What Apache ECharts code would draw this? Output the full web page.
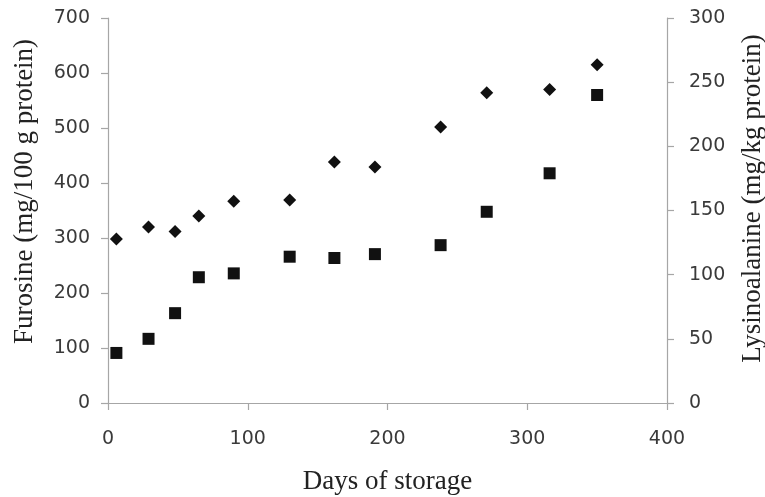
<!DOCTYPE html>
<html>
<head>
<meta charset="utf-8">
<script src="https://cdn.jsdelivr.net/npm/echarts@6/dist/echarts.min.js"></script>
<style>
  html, body { margin: 0; padding: 0; background: #fff; }
  #chart { width: 765px; height: 497px; }
</style>
</head>
<body>
<div id="chart"></div>
<script>
// Storage time (days) at which samples were analysed
const days = [6, 29, 48, 65, 90, 130, 162, 191, 238, 271, 316, 350];
// Furosine, mg/100 g protein (left axis)
const furosine = [298, 320, 312, 340, 367, 369, 438, 429, 502, 564, 570, 615];
// Lysinoalanine, mg/kg protein (right axis)
const lysinoalanine = [39, 50, 70, 98, 101, 114, 113, 116, 123, 149, 179, 240];

const axisColor = '#a6a6a6';
const labelColor = '#3a3a3a';
const labelFont = { fontFamily: 'DejaVu Sans', fontSize: 19, color: labelColor };
const titleFont = { fontFamily: 'Liberation Serif', fontSize: 27, color: '#222' };

const pairs = (xs, ys) => xs.map((x, i) => [x, ys[i]]);

const chart = echarts.init(document.getElementById('chart'), null, { renderer: 'canvas' });
chart.setOption({
  animation: false,
  backgroundColor: '#fff',
  grid: { left: 108, right: 98, top: 18, bottom: 94, outerBoundsMode: 'none', containLabel: false },
  xAxis: {
    type: 'value', min: 0, max: 400, interval: 100,
    name: 'Days of storage', nameLocation: 'middle', nameGap: 65,
    nameTextStyle: titleFont,
    axisLine: { show: true, lineStyle: { color: axisColor, width: 1.2 } },
    axisTick: { show: true, length: 7, lineStyle: { color: axisColor, width: 1.2 } },
    axisLabel: Object.assign({ margin: 27 }, labelFont),
    splitLine: { show: false }
  },
  yAxis: [
    {
      type: 'value', min: 0, max: 700, interval: 100, position: 'left',
      name: 'Furosine (mg/100 g protein)', nameLocation: 'middle', nameGap: 70,
      nameRotate: 90,
      nameTextStyle: Object.assign({ padding: [0, 0, 0, 38] }, titleFont),
      axisLine: { show: true, lineStyle: { color: axisColor, width: 1.2 } },
      axisTick: { show: true, length: 7, lineStyle: { color: axisColor, width: 1.2 } },
      axisLabel: Object.assign({ margin: 18 }, labelFont),
      splitLine: { show: false }
    },
    {
      type: 'value', min: 0, max: 300, interval: 50, position: 'right',
      name: 'Lysinoalanine (mg/kg protein)', nameLocation: 'middle', nameGap: 72,
      nameRotate: 90,
      nameTextStyle: Object.assign({ padding: [0, 0, 0, 24] }, titleFont),
      axisLine: { show: true, lineStyle: { color: axisColor, width: 1.2 } },
      axisTick: { show: true, length: 7, lineStyle: { color: axisColor, width: 1.2 } },
      axisLabel: Object.assign({ margin: 22 }, labelFont),
      splitLine: { show: false }
    }
  ],
  series: [
    {
      name: 'Furosine', type: 'scatter', yAxisIndex: 0,
      symbol: 'diamond', symbolSize: 13,
      itemStyle: { color: '#111', opacity: 1 },
      data: pairs(days, furosine)
    },
    {
      name: 'Lysinoalanine', type: 'scatter', yAxisIndex: 1,
      symbol: 'rect', symbolSize: 12,
      itemStyle: { color: '#111', opacity: 1 },
      data: pairs(days, lysinoalanine)
    }
  ]
});
</script>
</body>
</html>
